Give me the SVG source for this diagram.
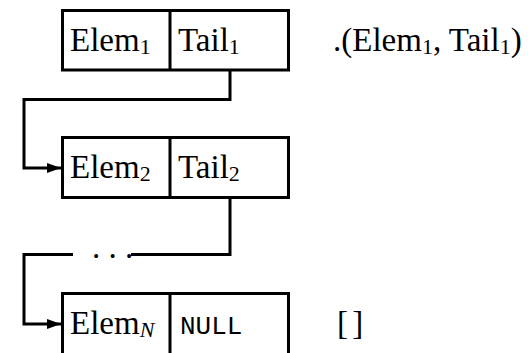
<svg xmlns="http://www.w3.org/2000/svg" width="528" height="353" viewBox="0 0 528 353">
<style>
.box{fill:#fff;stroke:#000;stroke-width:3}
.div{stroke:#000;stroke-width:3}
.conn{fill:none;stroke:#000;stroke-width:3;stroke-linejoin:miter}
.t{font-family:"Liberation Serif","Times New Roman",serif;font-size:33px;fill:#000}
.sub{font-size:22px}
.mono{font-family:"Liberation Mono","Courier New",monospace;font-size:26px;fill:#000}
</style>
<defs>
<marker id="arr" markerUnits="userSpaceOnUse" viewBox="0 0 14 10" refX="14" refY="5" markerWidth="14" markerHeight="10" orient="auto">
<path d="M0,0 L14,5 L0,10 z" fill="#000"/>
</marker>
</defs>
<g id="connectors">
<path class="conn" d="M230,70 V99.5 H24 V168 H61" marker-end="url(#arr)"/>
<path class="conn" d="M230,197.5 V254.5 H131"/>
<path class="conn" d="M73,254.5 H24 V324 H61" marker-end="url(#arr)"/>
<text class="t" x="92" y="258" letter-spacing="0">. . .</text>
</g>
<g id="node1">
<rect class="box" x="62.5" y="10.5" width="226" height="59.5"/>
<line class="div" x1="170" y1="10.5" x2="170" y2="70"/>
<text class="t" x="70" y="51">Elem<tspan class="sub" dy="3">1</tspan></text>
<text class="t" x="178" y="51">Tail<tspan class="sub" dy="3">1</tspan></text>
</g>
<g id="node2">
<rect class="box" x="62.5" y="137.5" width="226" height="60"/>
<line class="div" x1="170" y1="137.5" x2="170" y2="197.5"/>
<text class="t" x="70" y="178">Elem<tspan class="sub" dy="3">2</tspan></text>
<text class="t" x="178" y="178">Tail<tspan class="sub" dy="3">2</tspan></text>
</g>
<g id="node3">
<rect class="box" x="62.5" y="293.5" width="226" height="64"/>
<line class="div" x1="170" y1="293.5" x2="170" y2="357"/>
<text class="t" x="70" y="334">Elem<tspan class="sub" dy="3" font-style="italic">N</tspan></text>
<text class="mono" x="180" y="334">NULL</text>
</g>
<g id="label1">
<text class="t" x="333" y="51">.(Elem<tspan class="sub" dy="3">1</tspan><tspan dy="-3">, Tail</tspan><tspan class="sub" dy="3">1</tspan><tspan dy="-3">)</tspan></text>
</g>
<g id="label3">
<text class="t" x="337" y="334" word-spacing="-4">[ ]</text>
</g>
</svg>
